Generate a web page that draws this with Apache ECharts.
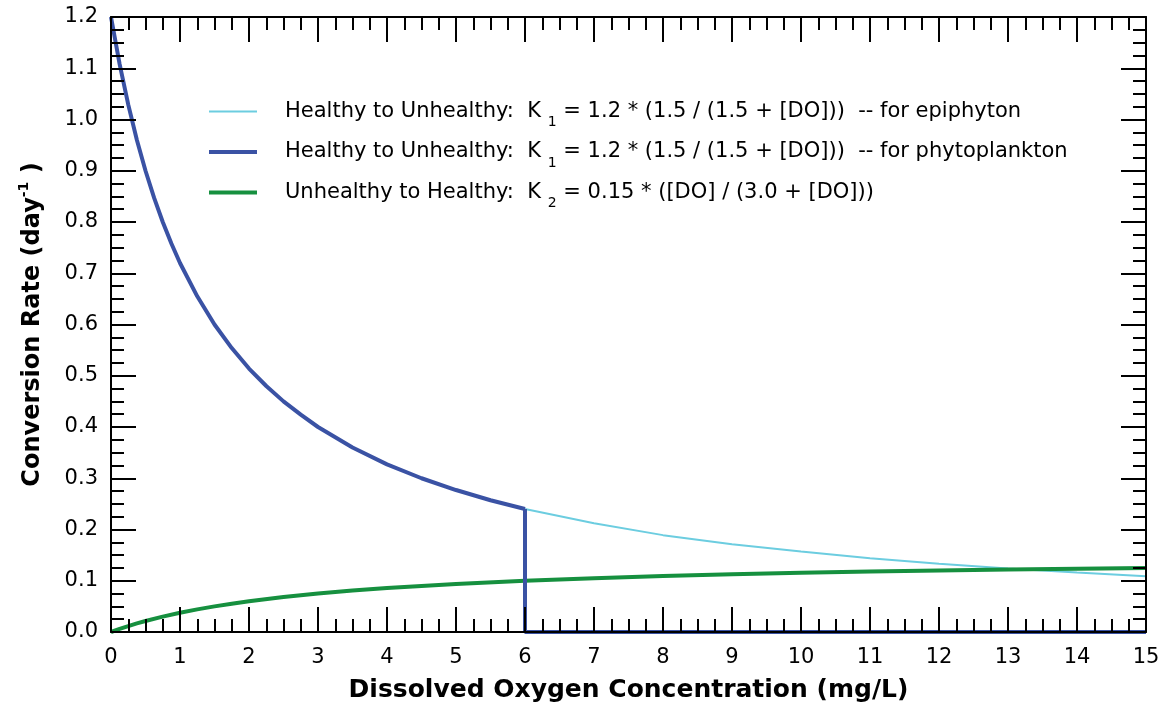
<!DOCTYPE html>
<html>
<head>
<meta charset="utf-8">
<script src="https://cdn.jsdelivr.net/npm/echarts@6/dist/echarts.min.js"></script>
<style>
html,body{margin:0;padding:0;background:#fff;}
#chart{width:1167px;height:709px;}
</style>
</head>
<body>
<div id="chart"></div>
<script>
// Values
const doEpi = [0,0.125,0.25,0.375,0.5,0.625,0.75,0.875,1,1.25,1.5,1.75,2,2.25,2.5,2.75,3,3.5,4,4.5,5,5.5,6,7,8,9,10,11,12,13,14,15];
const k1Epi = [1.2,1.108,1.029,0.96,0.9,0.847,0.8,0.758,0.72,0.655,0.6,0.554,0.514,0.48,0.45,0.424,0.4,0.36,0.327,0.3,0.277,0.257,0.24,0.212,0.189,0.171,0.157,0.144,0.133,0.124,0.116,0.109];

const doPhyto = [0,0.125,0.25,0.375,0.5,0.625,0.75,0.875,1,1.25,1.5,1.75,2,2.25,2.5,2.75,3,3.5,4,4.5,5,5.5,6];
const k1Phyto = [1.2,1.108,1.029,0.96,0.9,0.847,0.8,0.758,0.72,0.655,0.6,0.554,0.514,0.48,0.45,0.424,0.4,0.36,0.327,0.3,0.277,0.257,0.24];
const doPhytoOff = [6,6,15];
const k1PhytoOff = [0.24,0,0];

const doK2 = [0,0.125,0.25,0.375,0.5,0.75,1,1.25,1.5,1.75,2,2.5,3,3.5,4,5,6,7,8,9,10,11,12,13,14,15];
const k2 = [0,0.006,0.0115,0.0167,0.0214,0.03,0.0375,0.0441,0.05,0.0553,0.06,0.0682,0.075,0.0808,0.0857,0.0938,0.1,0.105,0.1091,0.1125,0.1154,0.1179,0.12,0.1219,0.1235,0.125];

const legendTexts = {
  epi:   ['Healthy to Unhealthy:  K ', '1', ' = 1.2 * (1.5 / (1.5 + [DO]))  -- for epiphyton'],
  phyto: ['Healthy to Unhealthy:  K ', '1', ' = 1.2 * (1.5 / (1.5 + [DO]))  -- for phytoplankton'],
  k2:    ['Unhealthy to Healthy:  K ', '2', ' = 0.15 * ([DO] / (3.0 + [DO]))']
};
const xTitle = 'Dissolved Oxygen Concentration (mg/L)';
const yTitle = 'Conversion Rate (day{sup|-1} )';

const pairs = (xs, ys) => xs.map((x, i) => [x, ys[i]]);

const FONT = 'DejaVu Sans';
const C_LIGHT = '#6ccde0';
const C_DARK = '#3a52a4';
const C_GREEN = '#16903f';

const axisCommon = {
  type: 'value',
  z: 10,
  axisLine: {show: true, onZero: false, lineStyle: {color: '#000', width: 2}},
  axisTick: {show: true, inside: true, length: 25, lineStyle: {color: '#000', width: 2}},
  minorTick: {show: true, splitNumber: 4, length: 13, lineStyle: {color: '#000', width: 2}},
  splitLine: {show: false},
  minorSplitLine: {show: false}
};

const chart = echarts.init(document.getElementById('chart'));
chart.setOption({
  animation: false,
  backgroundColor: '#fff',
  grid: {left: 111, right: 21, top: 17, bottom: 77, containLabel: false},
  xAxis: [
    Object.assign({}, axisCommon, {
      position: 'bottom', min: 0, max: 15, interval: 1,
      name: xTitle, nameLocation: 'middle', nameGap: 46,
      nameTextStyle: {fontFamily: FONT, fontWeight: 'bold', fontSize: 25, color: '#000'},
      axisLabel: {fontFamily: FONT, fontSize: 21, color: '#000', margin: 15}
    }),
    Object.assign({}, axisCommon, {
      position: 'top', min: 0, max: 15, interval: 1,
      axisLabel: {show: false}
    })
  ],
  yAxis: [
    Object.assign({}, axisCommon, {
      position: 'left', min: 0, max: 1.2, interval: 0.1,
      name: yTitle, nameLocation: 'middle', nameGap: 62, nameRotate: 90,
      nameTextStyle: {fontFamily: FONT, fontWeight: 'bold', fontSize: 24, color: '#000',
        rich: {sup: {fontFamily: FONT, fontWeight: 'bold', fontSize: 14, color: '#000', padding: [0, 0, 18, 0]}}},
      axisLabel: {fontFamily: FONT, fontSize: 21, color: '#000', margin: 13,
        formatter: v => v.toFixed(1)}
    }),
    Object.assign({}, axisCommon, {
      position: 'right', min: 0, max: 1.2, interval: 0.1,
      axisLabel: {show: false}
    })
  ],
  legend: {
    orient: 'vertical', left: 207, top: 101, padding: 0, itemGap: 12,
    itemWidth: 48, itemHeight: 14,
    selectedMode: false,
    data: [
      {name: 'epi', lineStyle: {width: 2}, itemStyle: {opacity: 0}},
      {name: 'phyto', lineStyle: {width: 4}, itemStyle: {opacity: 0}},
      {name: 'k2', lineStyle: {width: 4}, itemStyle: {opacity: 0}}
    ],
    lineStyle: {width: 'inherit'},
    itemStyle: {opacity: 0},
    formatter: name => {
      const t = legendTexts[name];
      return '{sp|}{t|' + t[0] + '}{s|' + t[1] + '}{t|' + t[2] + '}';
    },
    textStyle: {
      fontFamily: FONT, fontSize: 21, color: '#000',
      rich: {
        sp: {width: 23},
        t: {fontFamily: FONT, fontSize: 21, color: '#000'},
        s: {fontFamily: FONT, fontSize: 14, color: '#000', padding: [22, 0, 0, 0]}
      }
    }
  },
  series: [
    {
      name: 'epi', type: 'line', data: pairs(doEpi, k1Epi),
      symbol: 'none',
      lineStyle: {color: C_LIGHT, width: 2}, itemStyle: {color: C_LIGHT}, z: 2
    },
    {
      name: 'k2', type: 'line', data: pairs(doK2, k2),
      symbol: 'none',
      lineStyle: {color: C_GREEN, width: 4}, itemStyle: {color: C_GREEN}, z: 3
    },
    {
      name: 'phyto', type: 'line', data: pairs(doPhyto, k1Phyto),
      symbol: 'none',
      lineStyle: {color: C_DARK, width: 4}, itemStyle: {color: C_DARK}, z: 4
    },
    {
      name: 'phyto', type: 'line', data: pairs(doPhytoOff, k1PhytoOff),
      symbol: 'none',
      lineStyle: {color: C_DARK, width: 4}, itemStyle: {color: C_DARK}, z: 4
    }
  ]
});
</script>
</body>
</html>
